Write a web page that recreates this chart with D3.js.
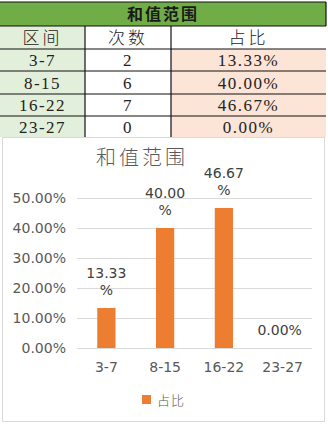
<!DOCTYPE html>
<html>
<head>
<meta charset="utf-8">
<script src="https://cdn.jsdelivr.net/npm/d3@7"></script>
<style>
  body { margin: 0; background: #fff; }
</style>
</head>
<body>
<div id="chart"></div>
<script>
// Dados

let table_title = '和值范围';
let table_header = ['区间', '次数', '占比'];
let categories = ['3-7', '8-15', '16-22', '23-27'];
let counts = [2, 6, 7, 0];
let shares = [13.33, 40.00, 46.67, 0.00];
let y_ticks = [0, 10, 20, 30, 40, 50];
let legend_label = '占比';

// Canvas

let width = 328;
let height = 427;

let svg = d3.select('#chart')
    .append('svg')
    .attr('width', width)
    .attr('height', height);

let fmt = d => d3.format('.2f')(d) + '%';

// Tabela

let col_x = [0, 85, 171, 326];
let row_y = [2, 26, 49, 71, 94, 116, 137];

let cjk = '"Noto Sans CJK SC", sans-serif';
let serif = '"Liberation Serif", "DejaVu Serif", serif';

// linha de título
svg.append('rect')
    .attr('x', 0).attr('y', row_y[0])
    .attr('width', col_x[3]).attr('height', row_y[1] - row_y[0])
    .attr('fill', '#70AD47');

svg.append('text')
    .text(table_title)
    .attr('x', col_x[3] / 2)
    .attr('y', (row_y[0] + row_y[1]) / 2 + 6)
    .attr('text-anchor', 'middle')
    .attr('font-family', cjk)
    .attr('font-weight', 'bold')
    .attr('font-size', 16)
    .attr('letter-spacing', 2)
    .attr('fill', '#1a1a1a');

// linhas de dados (cabeçalho + categorias)
let rows = [table_header].concat(categories.map((c, i) => [c, String(counts[i]), fmt(shares[i])]));

rows.forEach((r, ri) => {
    let y0 = row_y[ri + 1];
    let y1 = row_y[ri + 2];
    r.forEach((cell, ci) => {
        let bg = '#fff';
        if (ci === 0) bg = '#E2EFDA';
        if (ci === 2 && ri > 0) bg = '#FCE4D6';
        svg.append('rect')
            .attr('x', col_x[ci]).attr('y', y0)
            .attr('width', col_x[ci + 1] - col_x[ci]).attr('height', y1 - y0)
            .attr('fill', bg);
        svg.append('text')
            .text(cell)
            .attr('x', (col_x[ci] + col_x[ci + 1]) / 2)
            .attr('y', (y0 + y1) / 2 + 6)
            .attr('text-anchor', 'middle')
            .style('font-family', ri === 0 ? cjk : serif)
            .style('font-weight', ri === 0 ? 300 : 'normal')
            .style('font-size', '17px')
            .style('letter-spacing', ri === 0 ? '3px' : '1.5px')
            .attr('fill', '#222');
    });
});

// bordas da tabela
let grid_lines = svg.append('g').attr('stroke', '#111').attr('stroke-width', 1.2);
row_y.slice(0, 6).forEach(y => {
    grid_lines.append('line')
        .attr('x1', 0).attr('x2', col_x[3])
        .attr('y1', y).attr('y2', y);
});
[col_x[1], col_x[2]].forEach(x => {
    grid_lines.append('line')
        .attr('x1', x).attr('x2', x)
        .attr('y1', row_y[1]).attr('y2', row_y[6]);
});
grid_lines.append('line')
    .attr('x1', col_x[3]).attr('x2', col_x[3])
    .attr('y1', row_y[0]).attr('y2', row_y[1]);

// Gráfico

let chart_font = '"DejaVu Sans", sans-serif';

svg.append('rect')
    .attr('x', 2.5).attr('y', 137.5)
    .attr('width', 322).attr('height', 284)
    .attr('fill', '#fff')
    .attr('stroke', '#d9d9d9');

svg.append('text')
    .text(table_title)
    .attr('x', 142)
    .attr('y', 165)
    .attr('text-anchor', 'middle')
    .attr('font-family', cjk)
    .attr('font-weight', 300)
    .attr('font-size', 20)
    .attr('letter-spacing', 3)
    .attr('fill', '#595959');

let scala_x = d3.scaleBand()
    .domain(categories)
    .range([77, 312]);

let scala_y = d3.scaleLinear()
    .domain([0, 50])
    .range([348, 198]);

// linhas de grade e rótulos do eixo y
svg.append('g')
    .selectAll('line')
    .data(y_ticks)
    .enter()
    .append('line')
    .attr('x1', 77).attr('x2', 312)
    .attr('y1', d => scala_y(d) + 0.5)
    .attr('y2', d => scala_y(d) + 0.5)
    .attr('stroke', '#d9d9d9');

svg.append('g')
    .selectAll('text')
    .data(y_ticks)
    .enter()
    .append('text')
    .text(d => fmt(d))
    .attr('x', 66)
    .attr('y', d => scala_y(d) + 5)
    .attr('text-anchor', 'end')
    .attr('font-family', chart_font)
    .attr('font-size', 14)
    .attr('fill', '#595959');

// barras
let bar_w = scala_x.bandwidth() * 0.31;

svg.append('g')
    .selectAll('rect')
    .data(shares)
    .enter()
    .append('rect')
    .attr('x', (d, i) => scala_x(categories[i]) + scala_x.bandwidth() / 2 - bar_w / 2)
    .attr('y', d => scala_y(d))
    .attr('width', bar_w)
    .attr('height', d => scala_y(0) - scala_y(d))
    .attr('fill', '#ED7D31');

// rótulos de dados (quebra em duas linhas quando não cabe)
let labels = svg.append('g')
    .selectAll('text')
    .data(shares)
    .enter()
    .append('text')
    .attr('text-anchor', 'middle')
    .attr('font-family', chart_font)
    .attr('font-size', 14)
    .attr('fill', '#404040');

labels.each(function (d, i) {
    let t = d3.select(this);
    let cx = scala_x(categories[i]) + scala_x.bandwidth() / 2;
    let s = fmt(d);
    if (s.length > 5) {
        t.append('tspan').text(s.slice(0, -1)).attr('x', cx).attr('y', scala_y(d) - 30);
        t.append('tspan').text('%').attr('x', cx).attr('y', scala_y(d) - 13);
    } else {
        t.append('tspan').text(s).attr('x', cx - 3).attr('y', scala_y(d) - 13);
    }
});

// rótulos do eixo x
svg.append('g')
    .selectAll('text')
    .data(categories)
    .enter()
    .append('text')
    .text(d => d)
    .attr('x', d => scala_x(d) + scala_x.bandwidth() / 2)
    .attr('y', 372)
    .attr('text-anchor', 'middle')
    .attr('font-family', chart_font)
    .attr('font-size', 14)
    .attr('fill', '#595959');

// legenda
svg.append('rect')
    .attr('x', 142).attr('y', 395)
    .attr('width', 9).attr('height', 9)
    .attr('fill', '#ED7D31');

svg.append('text')
    .text(legend_label)
    .attr('x', 157)
    .attr('y', 405)
    .attr('font-family', cjk)
    .attr('font-weight', 300)
    .attr('font-size', 13)
    .attr('letter-spacing', 1)
    .attr('fill', '#595959');
</script>
</body>
</html>
